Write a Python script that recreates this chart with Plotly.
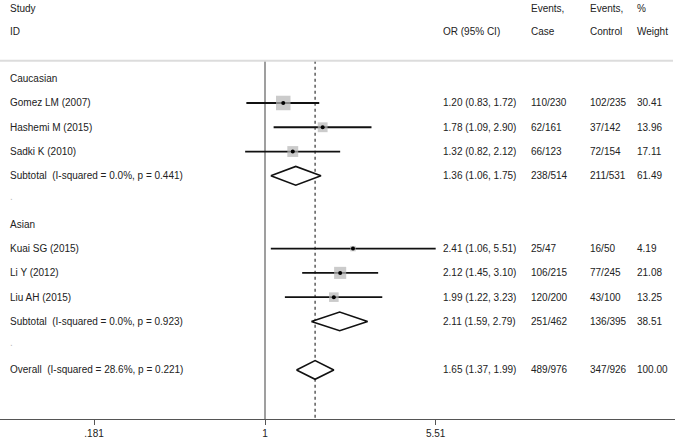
import plotly.graph_objects as go

# Forest plot: OR (95% CI) by ethnicity subgroup

studies = ["Gomez LM (2007)", "Hashemi M (2015)", "Sadki K (2010)",
           "Kuai SG (2015)", "Li Y (2012)", "Liu AH (2015)"]
study_or = [1.20, 1.78, 1.32, 2.41, 2.12, 1.99]
study_lo = [0.83, 1.09, 0.82, 1.06, 1.45, 1.22]
study_hi = [1.72, 2.90, 2.12, 5.51, 3.10, 3.23]
study_case = ["110/230", "62/161", "66/123", "25/47", "106/215", "120/200"]
study_control = ["102/235", "37/142", "72/154", "16/50", "77/245", "43/100"]
study_weight = [30.41, 13.96, 17.11, 4.19, 21.08, 13.25]

pooled_labels = ["Subtotal  (I-squared = 0.0%, p = 0.441)",
                 "Subtotal  (I-squared = 0.0%, p = 0.923)",
                 "Overall  (I-squared = 28.6%, p = 0.221)"]
pooled_or = [1.36, 2.11, 1.65]
pooled_lo = [1.06, 1.59, 1.37]
pooled_hi = [1.75, 2.79, 1.99]
pooled_case = ["238/514", "251/462", "489/976"]
pooled_control = ["211/531", "136/395", "347/926"]
pooled_weight = [61.49, 38.51, 100.00]

groups = ["Caucasian", "Asian"]
tick_vals = [0.181, 1, 5.51]
tick_text = [".181", "1", "5.51"]

# row layout (0 = first group heading, downwards)
study_rows = [1, 2, 3, 7, 8, 9]
pooled_rows = [4, 10, 12]
group_rows = [0, 6]
blank_rows = [5, 11]

W, H = 675, 441
FONT = "Liberation Sans, Arial, sans-serif"
TXT = "#222222"
col_x = {"label": 8, "or": 441, "case": 529, "control": 588, "weight": 635}

fig = go.Figure()

y_top, y_bottom = -0.74, 14.02

# null line and overall-estimate dashed line
fig.add_trace(go.Scatter(x=[1, 1], y=[y_top, y_bottom], mode="lines",
                         line=dict(color="#7f7f7f", width=1.5), hoverinfo="skip"))
fig.add_trace(go.Scatter(x=[pooled_or[2], pooled_or[2]], y=[y_top, y_bottom], mode="lines",
                         line=dict(color="#333333", width=1.2, dash="3px,3px"), hoverinfo="skip"))

# study CIs
for r, lo, hi in zip(study_rows, study_lo, study_hi):
    fig.add_trace(go.Scatter(x=[lo, hi], y=[r, r], mode="lines",
                             line=dict(color="#111111", width=1.8), hoverinfo="skip"))

# weight boxes and point estimates
box_sizes = [14.5 * (w / 30.41) ** 0.5 for w in study_weight]
fig.add_trace(go.Scatter(x=study_or, y=study_rows, mode="markers",
                         marker=dict(symbol="square", size=box_sizes, color="#b5b5b5",
                                     line=dict(width=0))))
fig.add_trace(go.Scatter(x=study_or, y=study_rows, mode="markers",
                         marker=dict(symbol="circle", size=4, color="#000000")))

# pooled diamonds
h = 0.385
for r, est, lo, hi in zip(pooled_rows, pooled_or, pooled_lo, pooled_hi):
    fig.add_trace(go.Scatter(x=[lo, est, hi, est, lo], y=[r, r - h, r, r + h, r],
                             mode="lines", line=dict(color="#111111", width=1.6),
                             fill="toself", fillcolor="white", hoverinfo="skip"))

# text columns
ann = []


def txt(px, row, s, color=TXT):
    ann.append(dict(x=px / W, xref="paper", y=row, yref="y", text=s, showarrow=False,
                    xanchor="left", yanchor="middle",
                    font=dict(family=FONT, size=10, color=color)))


txt(col_x["label"], -2.9, "Study")
txt(col_x["label"], -1.96, "ID")
txt(col_x["or"], -1.96, "OR (95% CI)")
txt(col_x["case"], -2.9, "Events,")
txt(col_x["case"], -1.96, "Case")
txt(col_x["control"], -2.9, "Events,")
txt(col_x["control"], -1.96, "Control")
txt(col_x["weight"], -2.9, "%")
txt(col_x["weight"], -1.96, "Weight")

for g, r in zip(groups, group_rows):
    txt(col_x["label"], r, g)
for r in blank_rows:
    txt(col_x["label"], r - 0.15, ".", color="#bbbbbb")

for i, r in enumerate(study_rows):
    txt(col_x["label"], r, studies[i])
    txt(col_x["or"], r, f"{study_or[i]:.2f} ({study_lo[i]:.2f}, {study_hi[i]:.2f})")
    txt(col_x["case"], r, study_case[i])
    txt(col_x["control"], r, study_control[i])
    txt(col_x["weight"], r, f"{study_weight[i]:.2f}")

for i, r in enumerate(pooled_rows):
    txt(col_x["label"], r, pooled_labels[i])
    txt(col_x["or"], r, f"{pooled_or[i]:.2f} ({pooled_lo[i]:.2f}, {pooled_hi[i]:.2f})")
    txt(col_x["case"], r, pooled_case[i])
    txt(col_x["control"], r, pooled_control[i])
    txt(col_x["weight"], r, f"{pooled_weight[i]:.2f}")

fig.update_layout(
    width=W, height=H,
    margin=dict(l=0, r=0, t=0, b=22),
    paper_bgcolor="white", plot_bgcolor="white",
    showlegend=False,
    annotations=ann,
    shapes=[dict(type="line", xref="paper", yref="y", x0=0, x1=673 / W,
                 y0=y_top, y1=y_top, line=dict(color="#dcdcdc", width=2))],
    font=dict(family=FONT, size=10, color=TXT),
    xaxis=dict(type="log", range=[-1.1507, 1.7803], tickvals=tick_vals, ticktext=tick_text,
               showgrid=False, zeroline=False, showline=True, linecolor="#555555",
               linewidth=1, ticks="outside", ticklen=5, tickcolor="#555555",
               tickfont=dict(family=FONT, size=10, color=TXT), fixedrange=True),
    yaxis=dict(range=[y_bottom, -3.243], showgrid=False, zeroline=False,
               showticklabels=False, showline=False, fixedrange=True),
)

# page body has a default 8px margin; drop it so the figure fills the window
fig.write_html("out.html", config={"displayModeBar": False},
               post_script="document.body.style.margin='0px';")
